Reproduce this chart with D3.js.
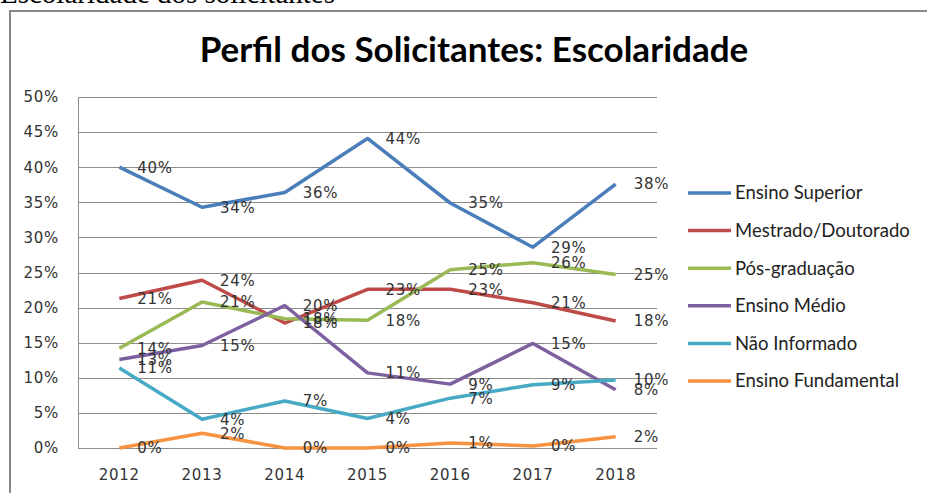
<!DOCTYPE html>
<html>
<head>
<meta charset="utf-8">
<script src="https://cdn.jsdelivr.net/npm/d3@7"></script>
<style>
  body { margin: 0; background: #fff; }
  svg { display: block; }
</style>
</head>
<body>
<div id="chart"></div>
<script>
// dados
const years = ["2012", "2013", "2014", "2015", "2016", "2017", "2018"];
const yTicks = [0, 5, 10, 15, 20, 25, 30, 35, 40, 45, 50];

const ensinoSuperior    = [40.0, 34.3, 36.4, 44.1, 34.9, 28.6, 37.6];
const mestradoDoutorado = [21.3, 23.9, 17.8, 22.6, 22.6, 20.7, 18.1];
const posGraduacao      = [14.2, 20.8, 18.4, 18.2, 25.4, 26.4, 24.7];
const ensinoMedio       = [12.6, 14.6, 20.3, 10.7, 9.1, 14.9, 8.3];
const naoInformado      = [11.4, 4.1, 6.7, 4.2, 7.1, 9.0, 9.7];
const ensinoFundamental = [0.0, 2.1, 0.0, 0.0, 0.7, 0.3, 1.6];

const seriesNames = ["Ensino Superior", "Mestrado/Doutorado", "Pós-graduação",
                     "Ensino Médio", "Não Informado", "Ensino Fundamental"];
const seriesColors = ["#4a7ebb", "#be4b48", "#98b954", "#7d60a0", "#46aac5", "#f69240"];

const series = [ensinoSuperior, mestradoDoutorado, posGraduacao,
                ensinoMedio, naoInformado, ensinoFundamental]
  .map((values, i) => ({name: seriesNames[i], color: seriesColors[i], values}));

// setup
const width = 927, height = 493;
const plot = {left: 78, right: 657, top: 97, bottom: 448};
const labelFont = "'DejaVu Sans', sans-serif";

const svg = d3.select("#chart").append("svg")
  .attr("width", width)
  .attr("height", height);

// texto do documento (cortado no topo)
svg.append("text")
  .attr("x", 0)
  .attr("y", 3)
  .style("font-family", "'Liberation Serif', serif")
  .style("font-size", "29px")
  .attr("fill", "#000")
  .text("Escolaridade dos solicitantes");

// moldura do gráfico
svg.append("path")
  .attr("d", `M10,${height} V11 H${width}`)
  .attr("fill", "none")
  .attr("stroke", "#878787")
  .attr("stroke-width", 2);

// título
svg.append("text")
  .attr("x", 474)
  .attr("y", 62)
  .attr("text-anchor", "middle")
  .style("font-family", "Lato, sans-serif")
  .style("font-weight", "bold")
  .style("font-size", "35px")
  .attr("fill", "#000")
  .text("Perfil dos Solicitantes: Escolaridade");

// escalas
const x = d3.scaleBand()
  .domain(years)
  .range([plot.left, plot.right]);

const y = d3.scaleLinear()
  .domain([0, 50])
  .range([plot.bottom, plot.top]);

// grade
svg.append("g")
  .selectAll("line")
  .data(yTicks)
  .join("line")
    .attr("x1", plot.left)
    .attr("x2", plot.right)
    .attr("y1", d => Math.round(y(d)) + 0.5)
    .attr("y2", d => Math.round(y(d)) + 0.5)
    .attr("stroke", "#8c8c8c")
    .attr("stroke-width", 1);

svg.append("line")
  .attr("x1", plot.left + 0.5)
  .attr("x2", plot.left + 0.5)
  .attr("y1", plot.top)
  .attr("y2", plot.bottom)
  .attr("stroke", "#8c8c8c");

// eixo Y
const yAxis = svg.append("g")
  .attr("transform", `translate(${plot.left},0)`)
  .call(d3.axisLeft(y).tickValues(yTicks).tickSize(0).tickPadding(19).tickFormat(d => d + "%"));

// eixo X
const xAxis = svg.append("g")
  .attr("transform", `translate(0,${plot.bottom})`)
  .call(d3.axisBottom(x).tickSize(0).tickPadding(21));

[yAxis, xAxis].forEach(g => {
  g.select(".domain").remove();
  g.selectAll("text")
    .style("font-family", labelFont)
    .style("font-size", "15px")
    .style("letter-spacing", "0.7px")
    .attr("fill", "#333");
});

// linhas
const line = d3.line()
  .x((d, i) => x(years[i]) + x.bandwidth() / 2)
  .y(d => y(d));

svg.append("g")
  .selectAll("path")
  .data(series)
  .join("path")
    .attr("d", d => line(d.values))
    .attr("fill", "none")
    .attr("stroke", d => d.color)
    .attr("stroke-width", 3.5)
    .attr("stroke-linejoin", "round");

// rótulos de dados
svg.append("g")
  .selectAll("g")
  .data(series)
  .join("g")
  .selectAll("text")
  .data(d => d.values)
  .join("text")
    .attr("x", (d, i) => x(years[i]) + x.bandwidth() / 2 + 18)
    .attr("y", d => y(d))
    .attr("dy", "0.36em")
    .style("font-family", labelFont)
    .style("font-size", "15px")
    .style("letter-spacing", "0.7px")
    .attr("fill", "#333")
    .text(d => Math.round(d) + "%");

// legenda
const legend = svg.append("g")
  .selectAll("g")
  .data(series)
  .join("g")
    .attr("transform", (d, i) => `translate(688,${193 + i * 37.6})`);

legend.append("line")
  .attr("x1", 0)
  .attr("x2", 43)
  .attr("stroke", d => d.color)
  .attr("stroke-width", 3.5);

legend.append("text")
  .attr("x", 47)
  .attr("dy", "0.35em")
  .style("font-family", "Lato, sans-serif")
  .style("font-size", "18.5px")
  .attr("fill", "#222")
  .text(d => d.name);
</script>
</body>
</html>
